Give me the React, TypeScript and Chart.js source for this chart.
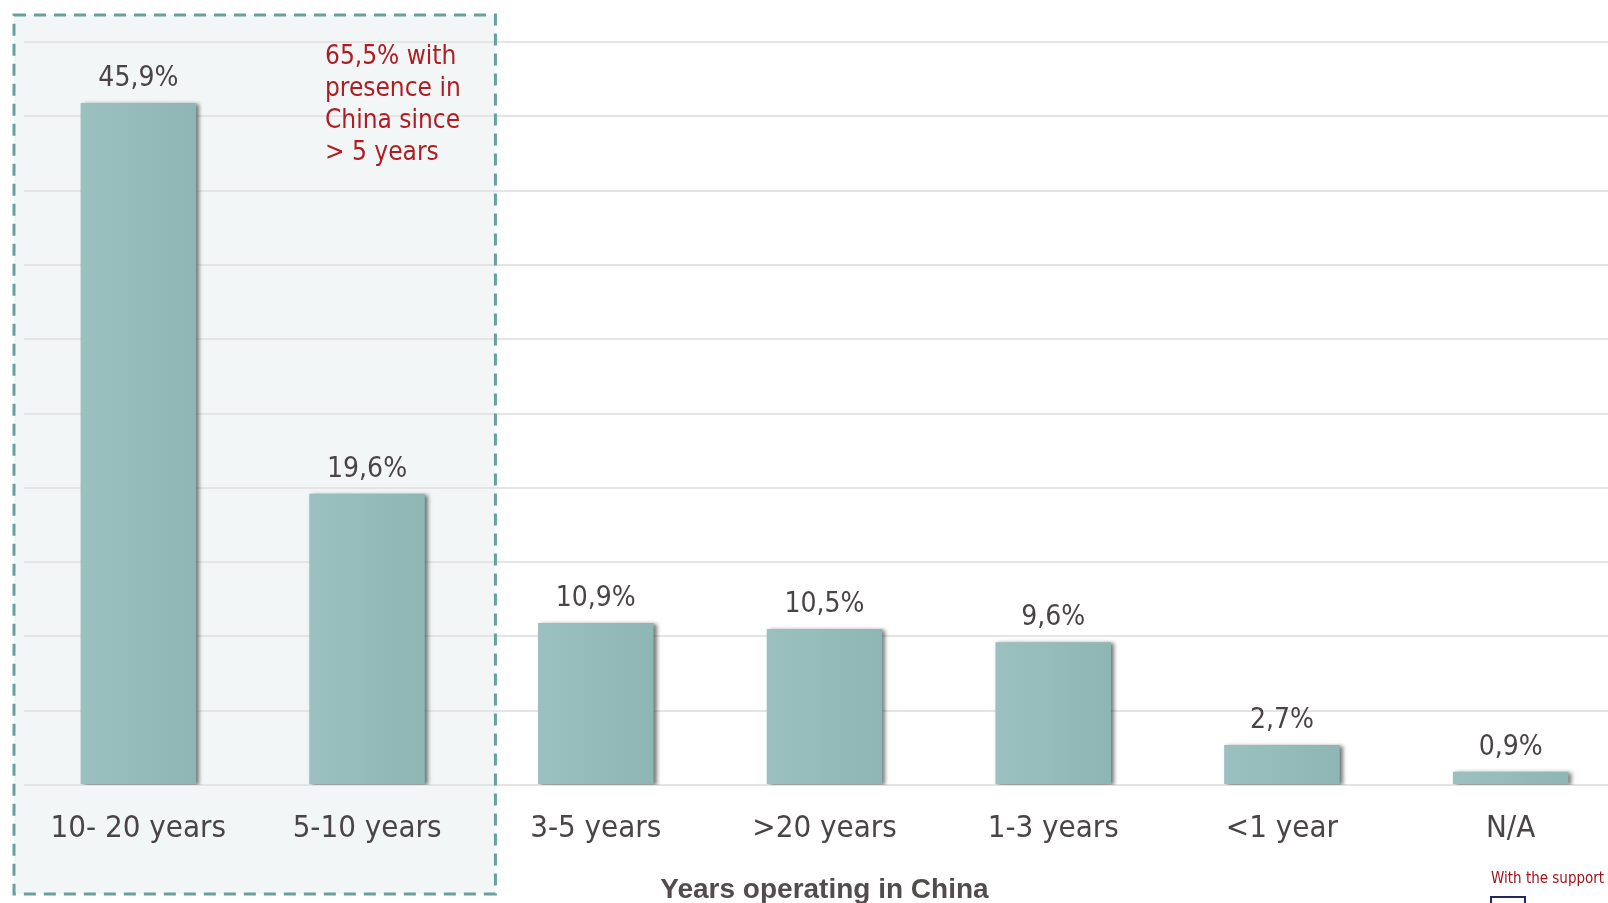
import React, { useEffect, useRef } from "react";
import { Chart, registerables } from "chart.js";

Chart.register(...registerables);

// ---- data ----
const categories = ["10- 20 years", "5-10 years", "3-5 years", ">20 years", "1-3 years", "<1 year", "N/A"];
const shares = [45.9, 19.6, 10.9, 10.5, 9.6, 2.7, 0.9];
const valueLabels = ["45,9%", "19,6%", "10,9%", "10,5%", "9,6%", "2,7%", "0,9%"];
const yMin = 0;
const yMax = 50;
const yStep = 5;
const noteLines = ["65,5% with", "presence in", "China since", "> 5 years"];
const axisTitle = "Years operating in China";
const supportText = "With the support";
const highlightedCount = 2; // first two categories inside the dashed box

// ---- styles ----
const FONT = "'DejaVu Sans Condensed', 'DejaVu Sans', sans-serif";
const TEXT = "#4a4446";
const RED = "#b01c22";
const CANVAS_W = 1650;
const CANVAS_H = 903;

const decorPlugin = {
  id: "decor",
  beforeDraw(chart: any) {
    const { ctx } = chart;
    const xs = chart.scales.x;
    ctx.save();
    ctx.fillStyle = "#ffffff";
    ctx.fillRect(0, 0, chart.width, chart.height);
    const step = xs.getPixelForValue(1) - xs.getPixelForValue(0);
    const left = xs.left - 10;
    const right = xs.getPixelForValue(highlightedCount - 1) + step / 2 + 14;
    ctx.fillStyle = "#f2f6f7";
    ctx.fillRect(left, 15, right - left, 894 - 15);
    ctx.restore();
  },
  beforeDatasetsDraw(chart: any) {
    const { ctx } = chart;
    ctx.save();
    ctx.shadowColor = "rgba(30,30,30,0.6)";
    ctx.shadowBlur = 4;
    ctx.shadowOffsetX = 3;
    ctx.shadowOffsetY = 1;
  },
  afterDatasetsDraw(chart: any) {
    const { ctx } = chart;
    ctx.restore();
    const meta = chart.getDatasetMeta(0);
    ctx.save();
    ctx.font = `28px ${FONT}`;
    ctx.fillStyle = TEXT;
    ctx.textAlign = "center";
    ctx.textBaseline = "alphabetic";
    meta.data.forEach((bar: any, i: number) => {
      ctx.fillText(valueLabels[i], bar.x, bar.y - 17);
    });
    ctx.restore();
  },
  afterDraw(chart: any) {
    const { ctx } = chart;
    const xs = chart.scales.x;
    const step = xs.getPixelForValue(1) - xs.getPixelForValue(0);
    const left = xs.left - 10;
    const right = xs.getPixelForValue(highlightedCount - 1) + step / 2 + 14;
    ctx.save();
    ctx.strokeStyle = "#68a09c";
    ctx.lineWidth = 3;
    ctx.setLineDash([12, 8]);
    ctx.strokeRect(left, 15, right - left, 894 - 15);
    ctx.setLineDash([]);

    // annotation
    ctx.font = `26px ${FONT}`;
    ctx.fillStyle = RED;
    ctx.textAlign = "left";
    ctx.textBaseline = "alphabetic";
    noteLines.forEach((line, i) => {
      ctx.fillText(line, 325, 64 + i * 32);
    });

    // support note
    ctx.font = `15px ${FONT}`;
    ctx.fillStyle = "#a0141a";
    ctx.fillText(supportText, 1491, 883);
    ctx.strokeStyle = "#1f2a5c";
    ctx.lineWidth = 2;
    ctx.strokeRect(1491, 897, 34, 12);
    ctx.restore();
  },
};

export default function App() {
  const canvasRef = useRef<HTMLCanvasElement | null>(null);

  useEffect(() => {
    if (!canvasRef.current) return;
    const barPct = 0.505;
    const chart = new Chart(canvasRef.current, {
      type: "bar",
      data: {
        labels: categories,
        datasets: [
          {
            data: shares,
            barPercentage: barPct,
            categoryPercentage: 1,
            borderWidth: 0,
            backgroundColor: (c: any) => {
              const ch = c.chart;
              const xs = ch.scales && ch.scales.x;
              if (!ch.chartArea || !xs || c.type !== "data") return "#95bbba";
              const cx = xs.getPixelForValue(c.dataIndex);
              const half = ((xs.getPixelForValue(1) - xs.getPixelForValue(0)) * barPct) / 2;
              const g = ch.ctx.createLinearGradient(cx - half, 0, cx + half, 0);
              g.addColorStop(0, "#9bc0bf");
              g.addColorStop(1, "#8eb6b5");
              return g;
            },
          },
        ],
      },
      options: {
        responsive: false,
        animation: false,
        devicePixelRatio: 1,
        layout: { padding: { left: 24, right: CANVAS_W - 1625, top: 42, bottom: 0 } },
        plugins: { legend: { display: false }, tooltip: { enabled: false } },
        scales: {
          x: {
            grid: { display: false, drawTicks: false },
            border: { display: false },
            ticks: {
              font: { family: FONT, size: 31 },
              color: TEXT,
              padding: 25,
              maxRotation: 0,
              autoSkip: false,
            },
            title: {
              display: true,
              text: axisTitle,
              font: { family: "'Liberation Sans', Arial, sans-serif", size: 28, weight: "bold", lineHeight: 1 },
              color: "#524c4d",
              padding: { top: 0, bottom: -1 },
            },
            afterFit: (s: any) => {
              s.height = 118;
            },
          },
          y: {
            min: yMin,
            max: yMax,
            ticks: { display: false, stepSize: yStep },
            border: { display: false },
            grid: { color: "#e4e4e4", lineWidth: 2, drawTicks: false },
            afterFit: (s: any) => {
              s.width = 0;
            },
          },
        },
      },
      plugins: [decorPlugin],
    });
    return () => chart.destroy();
  }, []);

  return (
    <div
      style={{
        position: "fixed",
        left: 0,
        top: 0,
        width: 1608,
        height: 903,
        overflow: "hidden",
        background: "#ffffff",
      }}
    >
      <canvas
        ref={canvasRef}
        width={CANVAS_W}
        height={CANVAS_H}
        style={{ display: "block", width: CANVAS_W, height: CANVAS_H }}
      />
    </div>
  );
}
